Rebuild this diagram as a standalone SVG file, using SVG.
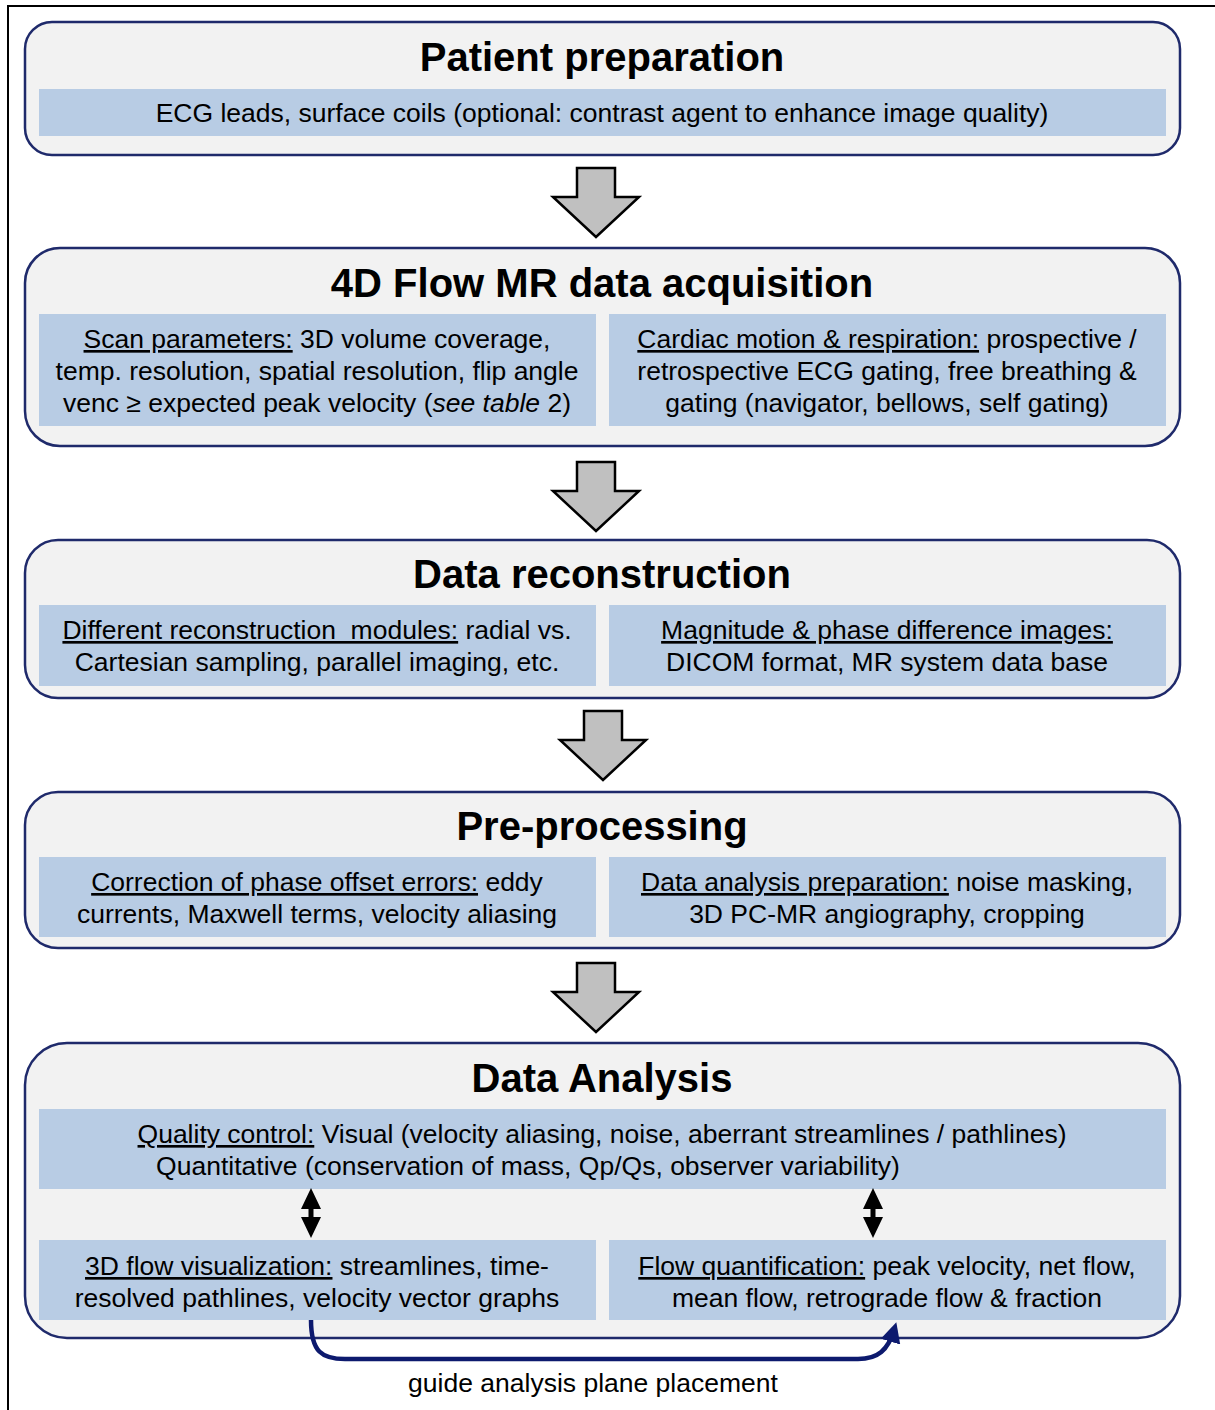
<svg xmlns="http://www.w3.org/2000/svg" width="1215" height="1410" viewBox="0 0 1215 1410">
<defs>
<style>
.stage{fill:#f2f2f2;stroke:#1f2a6b;stroke-width:2.5}
.band{fill:#b8cce4}
.title{font-family:"Liberation Sans",Arial,sans-serif;font-weight:bold;font-size:40px;fill:#000;text-anchor:middle}
.body{font-family:"Liberation Sans",Arial,sans-serif;font-size:26.5px;fill:#000;text-anchor:middle}
.u{text-decoration:underline}
.flow{fill:#c0c0c0;stroke:#000;stroke-width:2.5;stroke-linejoin:miter}
.conn{fill:none;stroke:#0d1a6e;stroke-width:4.5}
</style>
<marker id="ah" viewBox="0 0 10 10" refX="6" refY="5" markerWidth="4.5" markerHeight="4.5" orient="auto">
<path d="M0,0 L10,5 L0,10 z" fill="#0d1a6e"/>
</marker>
</defs>
<rect width="1215" height="1410" fill="#fff"/>
<path d="M8,1410 L8,6 L1215,6" fill="none" stroke="#000" stroke-width="2"/>

<g id="patient-preparation">
<rect class="stage" x="25" y="22" width="1155" height="133" rx="27"/>
<text class="title" x="602" y="71">Patient preparation</text>
<rect class="band" x="39" y="89" width="1127" height="47"/>
<text class="body" x="602" y="122">ECG leads, surface coils (optional: contrast agent to enhance image quality)</text>
</g>

<g id="acquisition">
<rect class="stage" x="25" y="248" width="1155" height="198" rx="35"/>
<text class="title" x="602" y="297">4D Flow MR data acquisition</text>
<rect class="band" x="39" y="314" width="557" height="112"/>
<rect class="band" x="609" y="314" width="557" height="112"/>
<text class="body" x="317" y="348"><tspan class="u">Scan parameters:</tspan> 3D volume coverage,</text>
<text class="body" x="317" y="380">temp. resolution, spatial resolution, flip angle</text>
<text class="body" x="317" y="412">venc ≥ expected peak velocity (<tspan font-style="italic">see table</tspan> 2)</text>
<text class="body" x="887" y="348"><tspan class="u">Cardiac motion &amp; respiration:</tspan> prospective /</text>
<text class="body" x="887" y="380">retrospective ECG gating, free breathing &amp;</text>
<text class="body" x="887" y="412">gating (navigator, bellows, self gating)</text>
</g>

<g id="reconstruction">
<rect class="stage" x="25" y="540" width="1155" height="158" rx="33"/>
<text class="title" x="602" y="588">Data reconstruction</text>
<rect class="band" x="39" y="605" width="557" height="81"/>
<rect class="band" x="609" y="605" width="557" height="81"/>
<text class="body" x="317" y="639"><tspan class="u">Different reconstruction &#160;modules:</tspan> radial vs.</text>
<text class="body" x="317" y="671">Cartesian sampling, parallel imaging, etc.</text>
<text class="body" x="887" y="639"><tspan class="u">Magnitude &amp; phase difference images:</tspan></text>
<text class="body" x="887" y="671">DICOM format, MR system data base</text>
</g>

<g id="preprocessing">
<rect class="stage" x="25" y="792" width="1155" height="156" rx="33"/>
<text class="title" x="602" y="840">Pre-processing</text>
<rect class="band" x="39" y="857" width="557" height="80"/>
<rect class="band" x="609" y="857" width="557" height="80"/>
<text class="body" x="317" y="891"><tspan class="u">Correction of phase offset errors:</tspan> eddy</text>
<text class="body" x="317" y="923">currents, Maxwell terms, velocity aliasing</text>
<text class="body" x="887" y="891"><tspan class="u">Data analysis preparation:</tspan> noise masking,</text>
<text class="body" x="887" y="923">3D PC-MR angiography, cropping</text>
</g>

<g id="analysis">
<rect class="stage" x="25" y="1043" width="1155" height="295" rx="42"/>
<text class="title" x="602" y="1092">Data Analysis</text>
<rect class="band" x="39" y="1109" width="1127" height="80"/>
<text class="body" x="602" y="1143"><tspan class="u">Quality control:</tspan> Visual (velocity aliasing, noise, aberrant streamlines / pathlines)</text>
<text class="body" x="528" y="1175">Quantitative (conservation of mass, Qp/Qs, observer variability)</text>
<rect class="band" x="39" y="1240" width="557" height="80"/>
<rect class="band" x="609" y="1240" width="557" height="80"/>
<text class="body" x="317" y="1275"><tspan class="u">3D flow visualization:</tspan> streamlines, time-</text>
<text class="body" x="317" y="1307">resolved pathlines, velocity vector graphs</text>
<text class="body" x="887" y="1275"><tspan class="u">Flow quantification:</tspan> peak velocity, net flow,</text>
<text class="body" x="887" y="1307">mean flow, retrograde flow &amp; fraction</text>
</g>

<g id="connectors">
<polygon class="flow" points="577,168 615,168 615,197 639,197 596,237 553,197 577,197"/>
<polygon class="flow" points="577,462 615,462 615,491 639,491 596,531 553,491 577,491"/>
<polygon class="flow" points="584,711 622,711 622,740 646,740 603,780 560,740 584,740"/>
<polygon class="flow" points="577,963 615,963 615,992 639,992 596,1032 553,992 577,992"/>
<g fill="#000">
<polygon points="311,1188 321,1209 313.5,1209 313.5,1217 321,1217 311,1238 301,1217 308.5,1217 308.5,1209 301,1209"/>
<polygon points="873,1188 883,1209 875.5,1209 875.5,1217 883,1217 873,1238 863,1217 870.5,1217 870.5,1209 863,1209"/>
</g>
<path class="conn" d="M311,1320 C311,1352 322,1359 345,1359 L858,1359 C878,1359 888,1350 894,1330" marker-end="url(#ah)"/>
<text class="body" x="593" y="1392">guide analysis plane placement</text>
</g>
</svg>
